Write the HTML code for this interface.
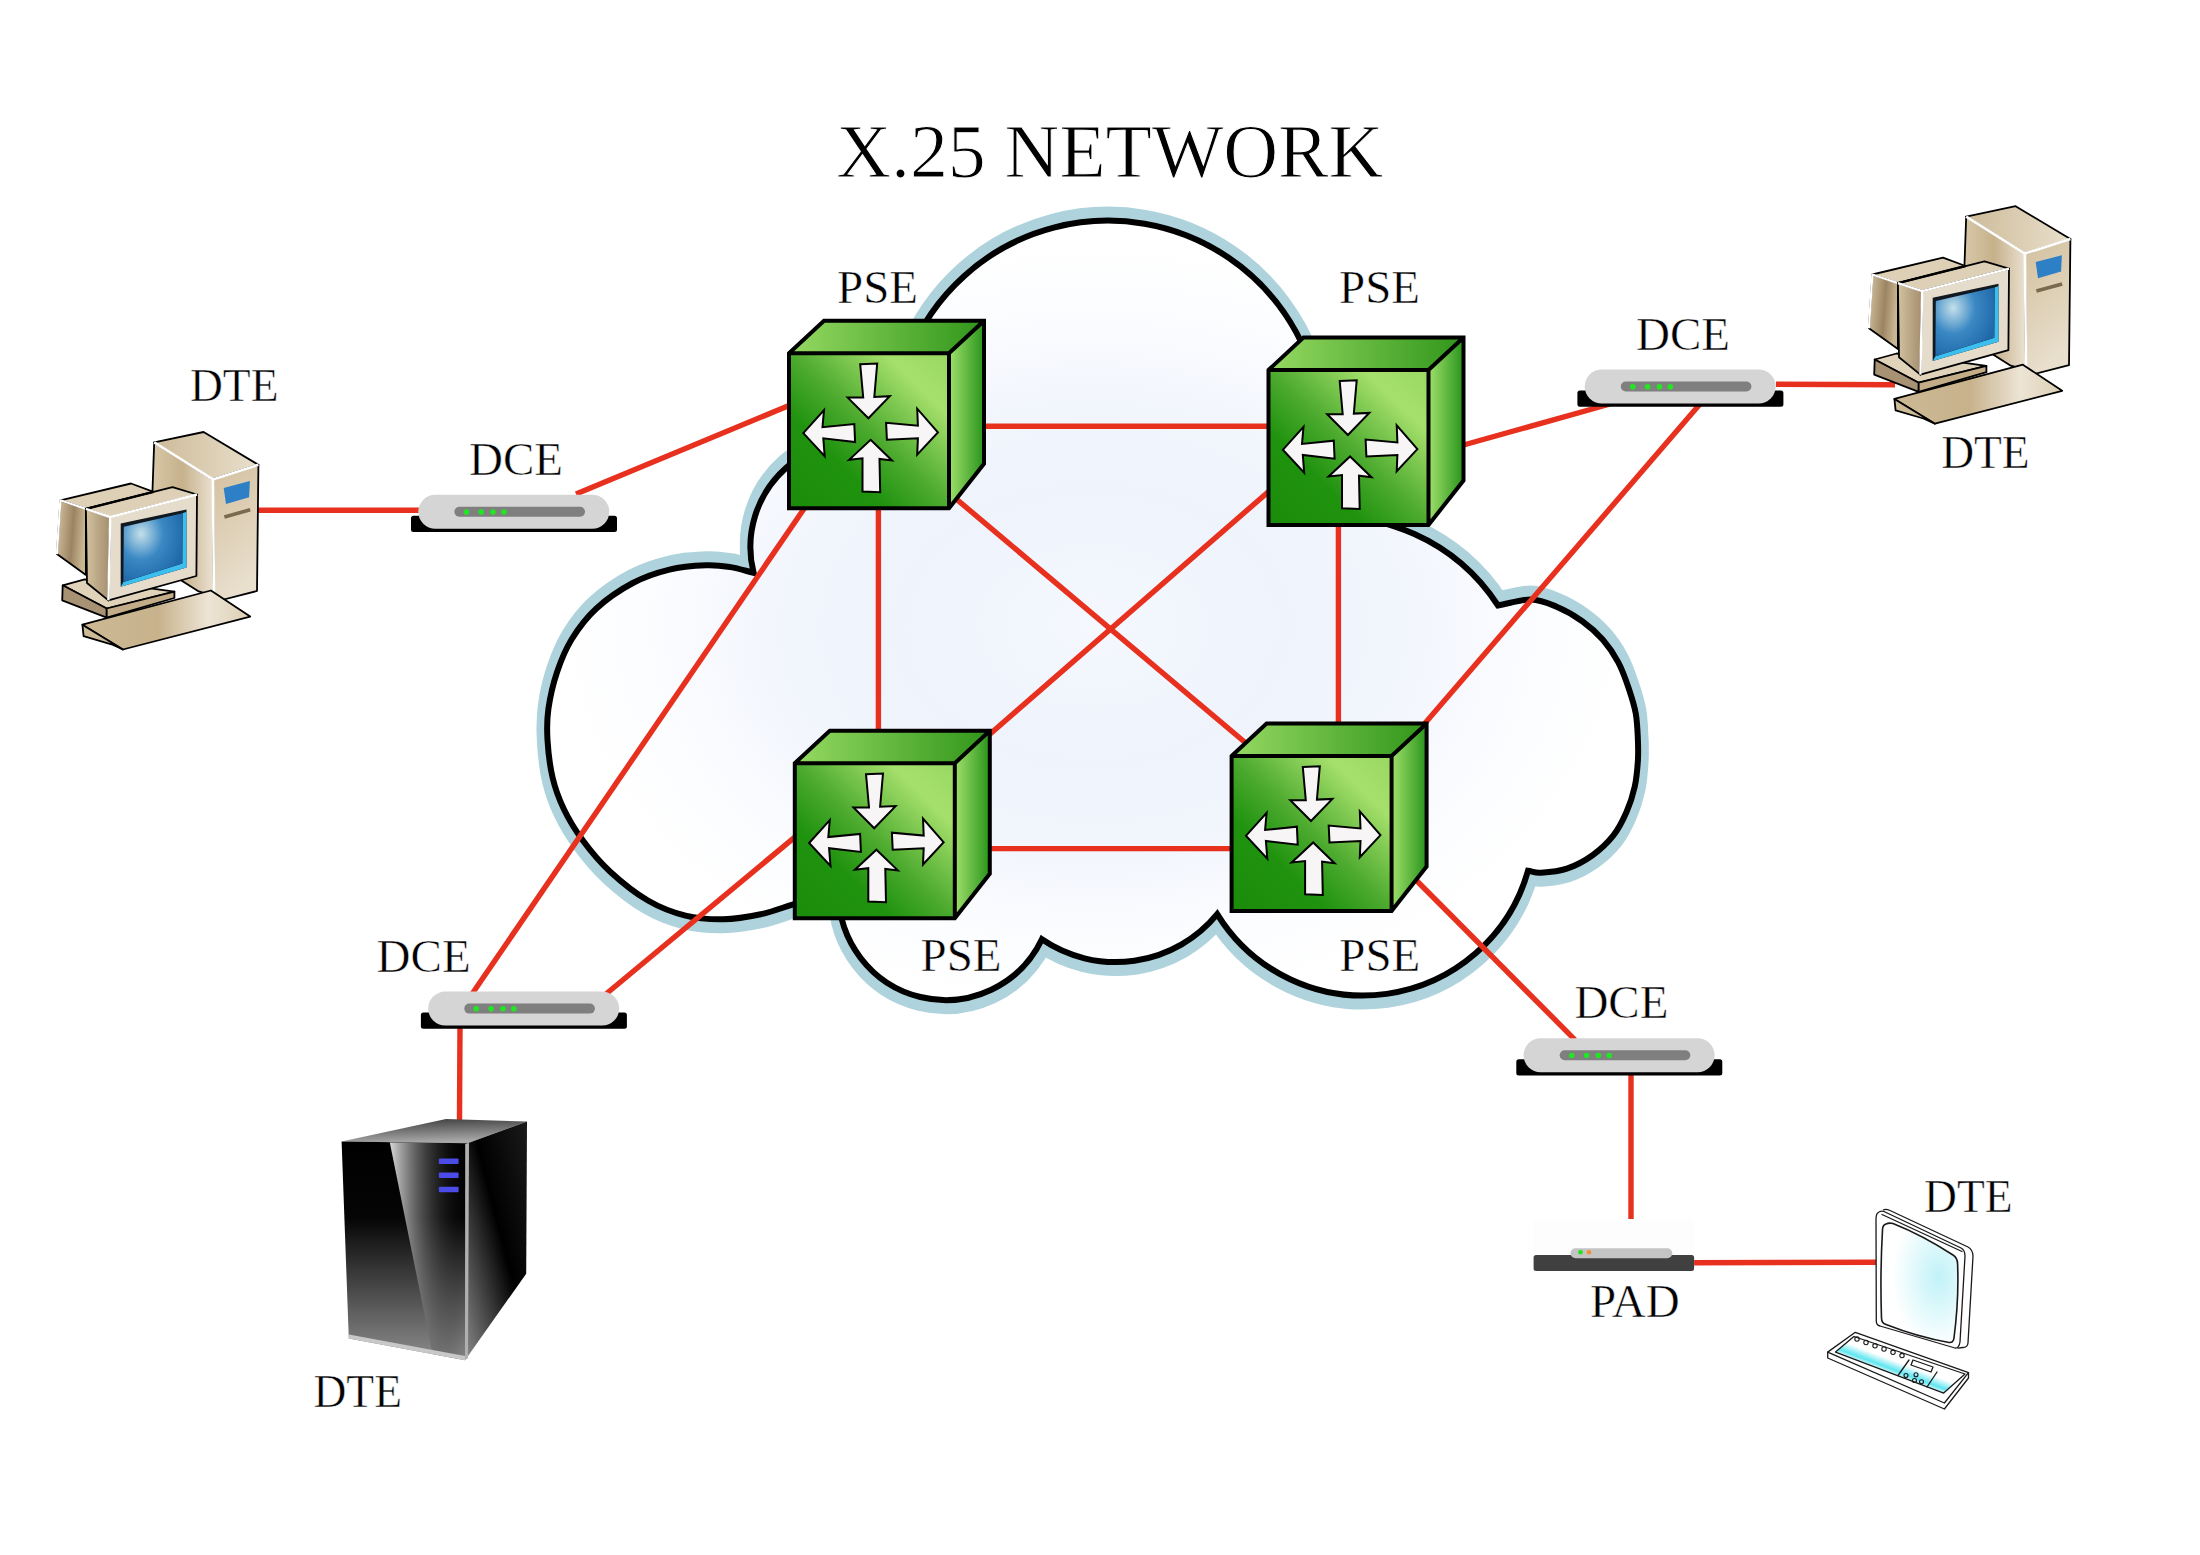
<!DOCTYPE html>
<html><head><meta charset="utf-8"><style>
html,body{margin:0;padding:0;background:#fff;overflow:hidden;}
svg{display:block;}
text{font-family:"Liberation Serif",serif;fill:#000;}
</style></head><body>
<svg width="2200" height="1555" viewBox="0 0 2200 1555">
<defs>
<radialGradient id="cg" cx="0.5" cy="0.52" r="0.5"><stop offset="0" stop-color="#f5f8fe"/><stop offset="0.35" stop-color="#eef3fc"/><stop offset="0.6" stop-color="#f3f6fd"/><stop offset="0.82" stop-color="#fcfdff"/><stop offset="1" stop-color="#ffffff"/></radialGradient>
<linearGradient id="gf" x1="0" y1="1" x2="1" y2="0">
<stop offset="0" stop-color="#1a8c0a"/><stop offset="0.3" stop-color="#1f920e"/><stop offset="0.5" stop-color="#4caa2e"/><stop offset="0.8" stop-color="#a6e06c"/><stop offset="1" stop-color="#98d862"/>
</linearGradient>
<linearGradient id="gt" x1="0" y1="0" x2="1" y2="0">
<stop offset="0" stop-color="#96d962"/><stop offset="1" stop-color="#30961a"/>
</linearGradient>
<linearGradient id="gr" x1="0" y1="0" x2="1" y2="0">
<stop offset="0" stop-color="#a0e06c"/><stop offset="1" stop-color="#28941a"/>
</linearGradient>
<g id="cube">
<path d="M0,0 L35,-32.5 L195,-32.5 L160,0 Z" fill="url(#gt)"/>
<path d="M160,0 L195,-32.5 L195,110.5 L160,155 Z" fill="url(#gr)"/>
<rect x="0" y="0" width="160" height="155" fill="url(#gf)"/>
<path d="M0,0 L35,-32.5 L195,-32.5 L195,110.5 L160,155 L0,155 Z M0,0 L160,0 L195,-32.5 M160,0 L160,155" fill="none" stroke="#000" stroke-width="4" stroke-linejoin="miter"/>
<g fill="#f7f5f5" stroke="#000" stroke-width="2" stroke-linejoin="miter">
<path d="M71.2,11 L88.2,10.3 L85.3,43.6 L100.8,42.9 L79.4,65 L58.7,44.3 L74.2,44.3 Z"/>
<path d="M14.3,79.8 L35,56.9 L33.5,73.9 L65.3,70.7 L66.1,88.7 L34.3,85 L35.7,102.8 Z"/>
<path d="M148.9,79.1 L128.2,55.4 L128.9,72.4 L97.1,69.5 L97.9,86.5 L128.9,85 L128.2,101.3 Z"/>
<path d="M81.6,86.5 L103,107.2 L90.5,105.7 L91.2,139 L73.5,138.3 L73.5,105 L60.1,106.5 Z"/>
</g>
</g>
<g id="dce">
<rect x="-7.3" y="20.9" width="206" height="16.3" rx="2.5" fill="#000"/>
<rect x="0" y="0" width="191" height="34" rx="17" fill="#d5d5d5"/>
<rect x="36.1" y="12" width="130.6" height="10" rx="5" fill="#7f7f7f"/>
<g fill="#22e622"><circle cx="48.1" cy="17.2" r="2.8"/><circle cx="62.9" cy="17.2" r="2.8"/><circle cx="74.7" cy="17.2" r="2.8"/><circle cx="85.6" cy="17.2" r="2.8"/></g>
</g>
<linearGradient id="pcTop" x1="0" y1="0" x2="1" y2="0"><stop offset="0" stop-color="#cdbb98"/><stop offset="1" stop-color="#e9dfcc"/></linearGradient>
<linearGradient id="pcSide" x1="0" y1="0" x2="1" y2="0"><stop offset="0" stop-color="#d9c9aa"/><stop offset="0.5" stop-color="#c6b18b"/><stop offset="1" stop-color="#ebe2d2"/></linearGradient>
<linearGradient id="pcFront" x1="0" y1="0" x2="0.3" y2="1"><stop offset="0" stop-color="#d2c09e"/><stop offset="1" stop-color="#e9dfcd"/></linearGradient>
<linearGradient id="pcTail" x1="0" y1="0" x2="1" y2="0.2"><stop offset="0" stop-color="#d5c4a3"/><stop offset="0.6" stop-color="#9c8462"/><stop offset="1" stop-color="#c9b693"/></linearGradient>
<linearGradient id="pcMonL" x1="0" y1="0" x2="1" y2="0"><stop offset="0" stop-color="#d2c1a0"/><stop offset="1" stop-color="#a38d6c"/></linearGradient>
<linearGradient id="pcKb" x1="0" y1="0" x2="1" y2="0"><stop offset="0" stop-color="#ccb994"/><stop offset="0.45" stop-color="#c7b28c"/><stop offset="0.75" stop-color="#ede4d5"/><stop offset="1" stop-color="#dccfb3"/></linearGradient>
<radialGradient id="pcScr" cx="0.3" cy="0.3" r="0.75"><stop offset="0" stop-color="#c4e0ea"/><stop offset="0.5" stop-color="#3a88c4"/><stop offset="1" stop-color="#1f68a8"/></radialGradient>
<g id="pc" stroke-linejoin="round">
<!-- tower -->
<path d="M154.2,442.4 L212.9,479.4 L214,596 L198,591.1 L181.8,580.7 L150,560 Z" fill="url(#pcSide)" stroke="#000" stroke-width="1.8"/>
<path d="M154.2,442.4 L203.6,432 L258.4,464.8 L212.9,479.4 Z" fill="url(#pcTop)" stroke="#000" stroke-width="1.8"/>
<path d="M212.9,479.4 L258.4,464.8 L257,591 L214,602 Z" fill="url(#pcFront)" stroke="#000" stroke-width="1.8"/>
<path d="M154.2,442.4 L212.9,479.4 L258.4,464.8 M212.9,479.4 L214,600" fill="none" stroke="#fff" stroke-width="2.6"/>
<path d="M223.7,487.9 L249.9,481 L249.1,497.2 L226,504.1 Z" fill="#2d7fc6"/>
<path d="M224.4,516.9 L250.2,509.8" stroke="#7a6a4e" stroke-width="3.6"/>
<!-- monitor tail -->
<path d="M60.4,500.3 L131,483.5 L153.5,491.8 L85.9,508.9 Z" fill="#ddd0b6" stroke="#000" stroke-width="1.8"/>
<path d="M60.4,500.3 L85.9,508.9 L85.9,574.9 L56.9,554.1 Z" fill="url(#pcTail)" stroke="#000" stroke-width="1.8"/>
<path d="M56.9,554.1 L60.4,500.3 L85.9,508.9" fill="none" stroke="#fff" stroke-width="2.2"/>
<!-- base -->
<path d="M62.7,585.3 L84.7,579.3 L174.4,591.7 L106.7,608.5 Z" fill="#e0d3ba" stroke="#000" stroke-width="1.8"/>
<path d="M62.7,585.3 L106.7,608.5 L106.7,617.7 L62.2,600.4 Z" fill="#a89274" stroke="#000" stroke-width="1.8"/>
<path d="M106.7,608.5 L174.4,591.7 L174.4,598 L106.7,617.7 Z" fill="#c2ad88" stroke="#000" stroke-width="1.8"/>
<!-- monitor box -->
<path d="M85.9,508.9 L172.5,487.1 L197,494.5 L110.2,517 Z" fill="#ddd0b6" stroke="#000" stroke-width="1.8"/>
<path d="M85.9,508.9 L153.5,491.8" stroke="#000" stroke-width="2.4"/>
<path d="M85.9,508.9 L110.2,517 L108.4,600.4 L87,583 Z" fill="url(#pcMonL)" stroke="#000" stroke-width="1.8"/>
<path d="M110.2,517 L197,494.5 L196.4,576 L108.4,600.4 Z" fill="#e6dccb" stroke="#000" stroke-width="1.8"/>
<path d="M85.9,508.9 L110.2,517 L197,494.5 M110.2,517 L108.4,600.4" fill="none" stroke="#fff" stroke-width="2.4"/>
<path d="M120.7,523.6 L186.5,509.6 L186.5,567.5 L120.7,586.8 Z" fill="#101820"/>
<path d="M182.6,513.2 L186.5,511.8 L186.5,567.5 L120.7,586.8 L123.4,582.1 L182.3,563.6 Z" fill="#3cbfee"/>
<path d="M123.8,526.7 L182.6,513.2 L182.3,563.6 L123.4,582.1 Z" fill="url(#pcScr)"/>
<!-- keyboard -->
<path d="M82.4,624.7 L210.9,590.5 L250.2,616.6 L122.9,649.5 Z" fill="url(#pcKb)" stroke="#000" stroke-width="1.8"/>
<path d="M82.4,624.7 L83.6,636.2 L111.4,644.3 L122.9,649.5 Z" fill="#cdbb98" stroke="#000" stroke-width="1.8"/>
</g>
<linearGradient id="svTop" x1="0" y1="0" x2="0.2" y2="1"><stop offset="0" stop-color="#3a3a3a"/><stop offset="1" stop-color="#a8a8a8"/></linearGradient>
<linearGradient id="svFront" x1="0" y1="0" x2="0" y2="1"><stop offset="0" stop-color="#000"/><stop offset="0.35" stop-color="#050505"/><stop offset="1" stop-color="#8c8c8c"/></linearGradient>
<linearGradient id="svSwoosh" x1="0" y1="0" x2="1" y2="0"><stop offset="0" stop-color="#d8d8d8" stop-opacity="1"/><stop offset="1" stop-color="#000" stop-opacity="0"/></linearGradient>
<linearGradient id="svRight" x1="0" y1="1" x2="1" y2="0"><stop offset="0" stop-color="#8a8a8a"/><stop offset="0.55" stop-color="#000"/><stop offset="1" stop-color="#1a1a1a"/></linearGradient>
<radialGradient id="tmScr" cx="0.75" cy="0.45" r="0.6"><stop offset="0" stop-color="#c0f2f8"/><stop offset="0.6" stop-color="#e6fafc"/><stop offset="1" stop-color="#ffffff"/></radialGradient>
<linearGradient id="tmKb" gradientUnits="userSpaceOnUse" x1="1853.9" y1="1336.5" x2="1846.5" y2="1356.1"><stop offset="0" stop-color="#ffffff"/><stop offset="0.4" stop-color="#ffffff"/><stop offset="0.82" stop-color="#5ee6f0"/><stop offset="1" stop-color="#d0f6fa"/></linearGradient>
</defs>
<g>
<path d="M753.6,572.8 A105.7,105.7 0 0 1 893.9,448.3 A214.5,214.5 0 1 1 1305.3,519.3 A194.5,194.5 0 0 1 1498.0,605.5 C1509.0,603.5 1521.1,599.3 1530.9,599.5 C1540.7,599.7 1548.0,603.1 1556.6,606.7 C1565.2,610.3 1574.6,615.7 1582.3,621.2 C1590.0,626.7 1596.9,632.9 1602.9,639.7 C1608.9,646.6 1614.0,654.2 1618.3,662.3 C1622.6,670.3 1625.7,679.4 1628.6,688.0 C1631.5,696.6 1634.2,705.0 1635.8,713.7 C1637.3,722.4 1637.6,732.2 1637.9,740.0 C1638.2,747.8 1638.4,752.9 1637.9,760.6 C1637.4,768.3 1636.7,777.7 1634.8,786.3 C1632.9,794.9 1630.1,803.8 1626.5,812.0 C1622.9,820.2 1618.9,828.5 1613.2,835.7 C1607.5,842.9 1600.3,849.7 1592.6,855.2 C1584.9,860.7 1575.5,865.7 1566.9,868.6 C1558.3,871.5 1547.7,872.3 1541.2,872.7 C1534.7,873.1 1532.4,871.4 1528.0,870.8 A171.4,171.4 0 0 1 1217.2,914.1 A131.2,131.2 0 0 1 1041.9,939.3 A106.8,106.8 0 0 1 838.8,890.0 C823.7,894.8 806.3,900.2 793.3,904.3 C780.3,908.4 772.4,911.8 760.7,914.3 C749.0,916.8 735.6,919.1 723.1,919.3 C710.6,919.5 698.0,918.7 685.5,915.6 C673.0,912.5 660.4,907.8 647.9,900.5 C635.4,893.2 621.1,881.7 610.2,871.7 C599.3,861.7 590.4,850.8 582.7,840.3 C575.0,829.8 568.8,819.5 563.8,809.0 C558.8,798.5 555.3,789.1 552.6,777.6 C549.9,766.1 548.2,751.5 547.5,740.0 C546.8,728.5 546.8,720.2 548.4,708.9 C550.0,697.6 553.1,683.8 557.0,672.2 C560.9,660.6 565.2,649.8 571.7,639.2 C578.2,628.6 585.9,618.1 596.1,608.7 C606.3,599.3 620.6,589.5 632.8,583.0 C645.0,576.5 657.2,572.6 669.4,569.6 C681.6,566.6 695.9,565.7 706.1,565.3 C716.3,564.9 722.6,565.9 730.5,567.1 C738.4,568.3 745.9,570.9 753.6,572.8 Z" fill="none" stroke="#aed3dc" stroke-width="21" stroke-linejoin="round" transform="translate(0,-3.5)"/>
<path d="M753.6,572.8 A105.7,105.7 0 0 1 893.9,448.3 A214.5,214.5 0 1 1 1305.3,519.3 A194.5,194.5 0 0 1 1498.0,605.5 C1509.0,603.5 1521.1,599.3 1530.9,599.5 C1540.7,599.7 1548.0,603.1 1556.6,606.7 C1565.2,610.3 1574.6,615.7 1582.3,621.2 C1590.0,626.7 1596.9,632.9 1602.9,639.7 C1608.9,646.6 1614.0,654.2 1618.3,662.3 C1622.6,670.3 1625.7,679.4 1628.6,688.0 C1631.5,696.6 1634.2,705.0 1635.8,713.7 C1637.3,722.4 1637.6,732.2 1637.9,740.0 C1638.2,747.8 1638.4,752.9 1637.9,760.6 C1637.4,768.3 1636.7,777.7 1634.8,786.3 C1632.9,794.9 1630.1,803.8 1626.5,812.0 C1622.9,820.2 1618.9,828.5 1613.2,835.7 C1607.5,842.9 1600.3,849.7 1592.6,855.2 C1584.9,860.7 1575.5,865.7 1566.9,868.6 C1558.3,871.5 1547.7,872.3 1541.2,872.7 C1534.7,873.1 1532.4,871.4 1528.0,870.8 A171.4,171.4 0 0 1 1217.2,914.1 A131.2,131.2 0 0 1 1041.9,939.3 A106.8,106.8 0 0 1 838.8,890.0 C823.7,894.8 806.3,900.2 793.3,904.3 C780.3,908.4 772.4,911.8 760.7,914.3 C749.0,916.8 735.6,919.1 723.1,919.3 C710.6,919.5 698.0,918.7 685.5,915.6 C673.0,912.5 660.4,907.8 647.9,900.5 C635.4,893.2 621.1,881.7 610.2,871.7 C599.3,861.7 590.4,850.8 582.7,840.3 C575.0,829.8 568.8,819.5 563.8,809.0 C558.8,798.5 555.3,789.1 552.6,777.6 C549.9,766.1 548.2,751.5 547.5,740.0 C546.8,728.5 546.8,720.2 548.4,708.9 C550.0,697.6 553.1,683.8 557.0,672.2 C560.9,660.6 565.2,649.8 571.7,639.2 C578.2,628.6 585.9,618.1 596.1,608.7 C606.3,599.3 620.6,589.5 632.8,583.0 C645.0,576.5 657.2,572.6 669.4,569.6 C681.6,566.6 695.9,565.7 706.1,565.3 C716.3,564.9 722.6,565.9 730.5,567.1 C738.4,568.3 745.9,570.9 753.6,572.8 Z" fill="none" stroke="#aed3dc" stroke-width="21" stroke-linejoin="round" transform="translate(0,3.5)"/>
<path d="M753.6,572.8 A105.7,105.7 0 0 1 893.9,448.3 A214.5,214.5 0 1 1 1305.3,519.3 A194.5,194.5 0 0 1 1498.0,605.5 C1509.0,603.5 1521.1,599.3 1530.9,599.5 C1540.7,599.7 1548.0,603.1 1556.6,606.7 C1565.2,610.3 1574.6,615.7 1582.3,621.2 C1590.0,626.7 1596.9,632.9 1602.9,639.7 C1608.9,646.6 1614.0,654.2 1618.3,662.3 C1622.6,670.3 1625.7,679.4 1628.6,688.0 C1631.5,696.6 1634.2,705.0 1635.8,713.7 C1637.3,722.4 1637.6,732.2 1637.9,740.0 C1638.2,747.8 1638.4,752.9 1637.9,760.6 C1637.4,768.3 1636.7,777.7 1634.8,786.3 C1632.9,794.9 1630.1,803.8 1626.5,812.0 C1622.9,820.2 1618.9,828.5 1613.2,835.7 C1607.5,842.9 1600.3,849.7 1592.6,855.2 C1584.9,860.7 1575.5,865.7 1566.9,868.6 C1558.3,871.5 1547.7,872.3 1541.2,872.7 C1534.7,873.1 1532.4,871.4 1528.0,870.8 A171.4,171.4 0 0 1 1217.2,914.1 A131.2,131.2 0 0 1 1041.9,939.3 A106.8,106.8 0 0 1 838.8,890.0 C823.7,894.8 806.3,900.2 793.3,904.3 C780.3,908.4 772.4,911.8 760.7,914.3 C749.0,916.8 735.6,919.1 723.1,919.3 C710.6,919.5 698.0,918.7 685.5,915.6 C673.0,912.5 660.4,907.8 647.9,900.5 C635.4,893.2 621.1,881.7 610.2,871.7 C599.3,861.7 590.4,850.8 582.7,840.3 C575.0,829.8 568.8,819.5 563.8,809.0 C558.8,798.5 555.3,789.1 552.6,777.6 C549.9,766.1 548.2,751.5 547.5,740.0 C546.8,728.5 546.8,720.2 548.4,708.9 C550.0,697.6 553.1,683.8 557.0,672.2 C560.9,660.6 565.2,649.8 571.7,639.2 C578.2,628.6 585.9,618.1 596.1,608.7 C606.3,599.3 620.6,589.5 632.8,583.0 C645.0,576.5 657.2,572.6 669.4,569.6 C681.6,566.6 695.9,565.7 706.1,565.3 C716.3,564.9 722.6,565.9 730.5,567.1 C738.4,568.3 745.9,570.9 753.6,572.8 Z" fill="url(#cg)" stroke="#000" stroke-width="6" stroke-linejoin="miter" stroke-miterlimit="10"/>
</g><g stroke="#e8301e" stroke-width="5.4" fill="none" stroke-linecap="butt">
<line x1="256" y1="510.2" x2="420" y2="510.2"/>
<line x1="576" y1="494" x2="800" y2="401"/>
<line x1="940" y1="426.3" x2="1280" y2="426.3"/>
<line x1="878.4" y1="500" x2="878.4" y2="770"/>
<line x1="940" y1="485.3" x2="1260" y2="755"/>
<line x1="1280" y1="481.6" x2="980" y2="742.7"/>
<line x1="1338.4" y1="520" x2="1338.4" y2="760"/>
<line x1="940" y1="848.6" x2="1240" y2="848.6"/>
<line x1="1460" y1="446" x2="1610" y2="404"/>
<line x1="1700" y1="404" x2="1420" y2="729"/>
<line x1="1776" y1="384.2" x2="1895" y2="384.7"/>
<line x1="800" y1="832.8" x2="606" y2="994"/>
<line x1="810" y1="500" x2="472" y2="994"/>
<line x1="460" y1="1026" x2="459.5" y2="1120"/>
<line x1="1410" y1="874" x2="1575" y2="1039.8"/>
<line x1="1631" y1="1072" x2="1631" y2="1219"/>
<line x1="1690" y1="1262.7" x2="1876" y2="1262.2"/>
</g>
<use href="#cube" transform="translate(789,353.3)"/>
<use href="#cube" transform="translate(1268.5,370)"/>
<use href="#cube" transform="translate(794.8,763.2)"/>
<use href="#cube" transform="translate(1231.6,756)"/>
<use href="#dce" transform="translate(418.3,494.8)"/>
<use href="#dce" transform="translate(1584.7,369.5)"/>
<use href="#dce" transform="translate(428.2,991.6)"/>
<use href="#dce" transform="translate(1523.6,1038.3)"/>
<use href="#pc"/>
<use href="#pc" transform="translate(1812,-225.8)"/>
<!-- server -->
<g stroke-linejoin="round">
<path d="M341.6,1141.4 L446,1118.9 L527,1121.6 L467.6,1143.2 Z" fill="url(#svTop)"/>
<path d="M341.6,1141.4 L467.6,1143.2 L465,1360.2 L348.8,1338.6 Z" fill="url(#svFront)"/>
<path d="M389.8,1142.5 L467.6,1143.2 L465,1360.2 L432.5,1354 Z" fill="url(#svSwoosh)"/>
<path d="M467.6,1143.2 L527,1121.6 L526.2,1273.7 L465,1360.2 Z" fill="url(#svRight)"/>
<path d="M348.8,1334.5 L465,1356 L465,1360.2 L348.8,1338.6 Z" fill="#c8c8c8"/>
<path d="M465.2,1144 L469,1143 L468,1358 L465,1360 Z" fill="#b0b0b0"/>
<g fill="#4b4be8"><rect x="438.8" y="1158.5" width="19.8" height="5.4" rx="1"/><rect x="438.8" y="1172.6" width="19.8" height="5.4" rx="1"/><rect x="438.8" y="1186.8" width="19.8" height="5.4" rx="1"/></g>
</g>
<!-- PAD -->
<rect x="1533.6" y="1220" width="160.5" height="50" fill="#fdfdfd"/>
<rect x="1533.6" y="1255" width="160.5" height="15.9" rx="2.5" fill="#404040"/>
<rect x="1570.5" y="1248.2" width="101.8" height="10" rx="5" fill="#c4c4c4"/>
<circle cx="1580.5" cy="1252.3" r="2.3" fill="#1ee61e"/>
<circle cx="1589" cy="1252.3" r="2.3" fill="#f59030"/>
<!-- terminal -->
<g fill="none" stroke="#1a1a1a" stroke-width="1.3" stroke-linejoin="round" stroke-linecap="round">
<path d="M1883.5,1209.8 Q1886,1208.5 1890,1210.5 L1968,1247 Q1973,1250 1973,1256 L1968,1343 Q1967.5,1347.5 1963,1347.5 L1958.1,1348.2" />
<path d="M1877.3,1213.4 Q1880,1210 1884,1211.5 L1961,1248 Q1965,1250 1965,1256 L1960,1342 Q1959,1348.5 1955,1348 L1880,1326 Q1876,1325 1876.3,1320 L1876,1220 Q1876,1215 1877.3,1213.4 Z" fill="#fff"/>
<path d="M1882,1214.5 L1962,1251.5" />
<path d="M1886,1224 Q1889,1222.5 1893,1223.5 Q1923,1235.5 1953,1255 Q1957.6,1258 1957.6,1264 Q1959,1300 1954,1338 Q1953.5,1343 1949,1342.5 Q1918,1337 1886,1324.5 Q1881.5,1323 1881.5,1318 Q1880,1274 1882.5,1230 Q1882.5,1225 1886,1224 Z" fill="url(#tmScr)" stroke-width="1.6"/>
<path d="M1827.7,1352.1 L1855.3,1332.3 L1968.5,1372.6 L1944.4,1403 Z" fill="#fff"/>
<path d="M1827.7,1352.1 L1827.7,1358 L1944.4,1409 L1968.5,1378 L1968.5,1372.6"/>
<path d="M1835.5,1352.1 L1853.9,1336.5 L1965,1374 L1943.7,1393.1 Z" fill="url(#tmKb)"/>
<path d="M1909,1360 L1898,1375.5 M1937,1372 L1927,1387"/>
<path d="M1913,1360 L1933,1367 L1931,1372 L1911,1365 Z"/>
<g stroke-width="1.1"><circle cx="1857" cy="1339" r="2.2"/><circle cx="1866" cy="1342.5" r="2.2"/><circle cx="1875" cy="1345.8" r="2.2"/><circle cx="1884" cy="1349" r="2.2"/><circle cx="1893" cy="1352.3" r="2.2"/><circle cx="1902" cy="1355.6" r="2.2"/>
<circle cx="1906" cy="1375.5" r="2"/><circle cx="1916" cy="1374.8" r="2"/><circle cx="1914.5" cy="1380.5" r="2"/><circle cx="1921.5" cy="1381.8" r="2"/></g>
</g>
<g font-size="47" stroke="#fff" stroke-width="0.5">
<text x="836.3" y="177" font-size="76" letter-spacing="-0.15" stroke="#fff" stroke-width="1">X.25 NETWORK</text>
<text x="837" y="303.4">PSE</text>
<text x="1339" y="303.4">PSE</text>
<text x="920.5" y="971.1">PSE</text>
<text x="1339.3" y="971.4">PSE</text>
<text x="190" y="401.2" textLength="88.5" lengthAdjust="spacingAndGlyphs">DTE</text>
<text x="469" y="475.4">DCE</text>
<text x="1636" y="350.1">DCE</text>
<text x="1941.2" y="468.3" textLength="88.5" lengthAdjust="spacingAndGlyphs">DTE</text>
<text x="376.6" y="972.1">DCE</text>
<text x="1574.4" y="1018.3">DCE</text>
<text x="313.5" y="1406.8" textLength="88.5" lengthAdjust="spacingAndGlyphs">DTE</text>
<text x="1590" y="1316.9">PAD</text>
<text x="1924.1" y="1212.4" textLength="88.5" lengthAdjust="spacingAndGlyphs">DTE</text>
</g>

</svg>
</body></html>
